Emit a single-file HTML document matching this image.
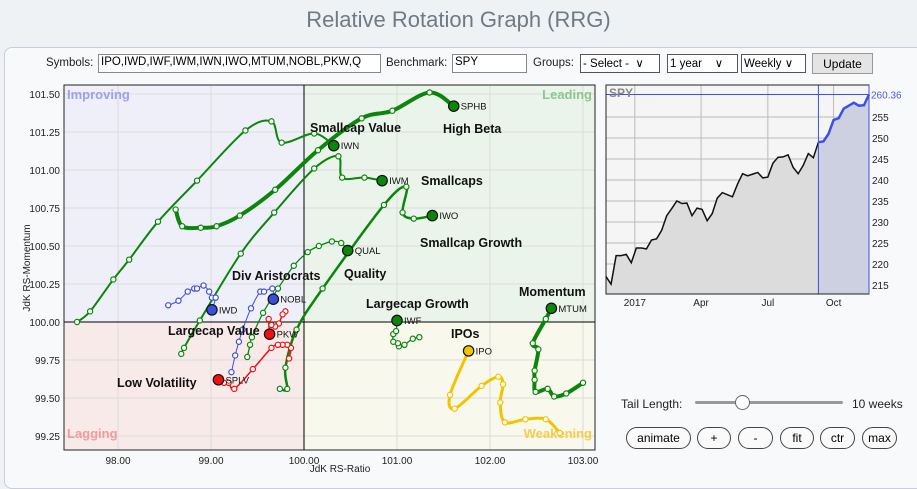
<!DOCTYPE html>
<html><head><meta charset="utf-8"><style>
body{margin:0;width:917px;height:479px;background:#eef2f5;font-family:"Liberation Sans",sans-serif;overflow:hidden;position:relative}
.t{position:absolute;font-size:11.5px;color:#222}
.in{position:absolute;height:19px;border:1px solid #888;background:#fff;font-size:11.5px;box-sizing:border-box;padding:1px 2px;white-space:nowrap;overflow:hidden}
.sel{position:absolute;height:19px;border:1px solid #555;background:#fff;font-size:11.5px;box-sizing:border-box;padding:1px 2px}
.btn{position:absolute;top:427px;height:22px;border:1px solid #444;border-radius:11px;background:#fafafa;font-size:12px;text-align:center;line-height:20px;box-sizing:border-box}
</style></head><body>
<div style="position:absolute;left:0;width:917px;top:7px;text-align:center;font-size:22px;color:#6f7a85">Relative Rotation Graph (RRG)</div>
<div style="position:absolute;left:4px;top:47px;width:930px;height:440px;background:#f8f9fa;border:1px solid #ccd;border-radius:8px"></div>
<span class="t" style="left:46px;top:57px">Symbols:</span>
<div class="in" style="left:98px;top:54px;width:283px">IPO,IWD,IWF,IWM,IWN,IWO,MTUM,NOBL,PKW,Q</div>
<span class="t" style="left:386px;top:57px">Benchmark:</span>
<div class="in" style="left:452px;top:54px;width:75px">SPY</div>
<span class="t" style="left:533px;top:57px">Groups:</span>
<div class="sel" style="left:580px;top:54px;width:80px">- Select - &nbsp;&#8744;</div>
<div class="sel" style="left:667px;top:54px;width:71px">1 year &nbsp;&nbsp;&nbsp;&#8744;</div>
<div class="sel" style="left:741px;top:54px;width:65px">Weekly &#8744;</div>
<div style="position:absolute;left:812px;top:53px;width:61px;height:21px;border:1px solid #999;background:#e4e4e4;font-size:12px;text-align:center;line-height:20px;box-sizing:border-box">Update</div>

<svg id="rrg" width="917" height="479" style="position:absolute;left:0;top:0" xmlns="http://www.w3.org/2000/svg"></svg>

<span class="t" style="left:621px;top:397px;font-size:12px">Tail Length:</span>
<div style="position:absolute;left:695px;top:401px;width:148px;height:3px;background:#999;border-radius:2px"></div>
<div style="position:absolute;left:735px;top:395px;width:13px;height:13px;border:1px solid #666;border-radius:50%;background:#fff"></div>
<span class="t" style="left:852px;top:397px;font-size:12px">10 weeks</span>
<div class="btn" style="left:626px;width:65px">animate</div>
<div class="btn" style="left:697px;width:34px">+</div>
<div class="btn" style="left:738px;width:35px">-</div>
<div class="btn" style="left:780px;width:34px">fit</div>
<div class="btn" style="left:820px;width:35px">ctr</div>
<div class="btn" style="left:862px;width:35px">max</div>

<script>
const xTicks=[98,99,100,101,102,103];
const yTicks=[99.25,99.5,99.75,100,100.25,100.5,100.75,101,101.25,101.5];
const symbols=["SPHB","IWN","IWM","IWO","QUAL","IWD","NOBL","PKW","SPLV","IWF","IPO","MTUM"];
const tailSPHB=[[98.62,100.74],[98.69,100.63],[98.89,100.62],[99.06,100.63],[99.31,100.70],[99.69,100.87],[100.15,101.13],[100.62,101.34],[100.95,101.39],[101.35,101.51],[101.61,101.42]];
const tailIWN=[[97.56,100.00],[97.70,100.07],[97.95,100.28],[98.12,100.41],[98.43,100.66],[98.85,100.93],[99.37,101.26],[99.65,101.32],[99.76,101.18],[100.11,101.24],[100.32,101.16]];
const tailIWM=[[98.68,99.79],[98.71,99.83],[98.88,100.01],[99.32,100.45],[99.68,100.72],[100.11,101.01],[100.37,101.09],[100.41,100.95],[100.65,100.95],[100.84,100.93]];
const tailIWO=[[99.74,99.56],[99.82,99.56],[99.80,99.70],[99.92,99.95],[100.20,100.22],[100.86,100.77],[101.10,100.89],[101.06,100.72],[101.18,100.68],[101.38,100.70]];
const tailQUAL=[[99.39,99.77],[99.42,99.85],[99.44,99.90],[99.56,100.06],[99.72,100.22],[99.89,100.37],[100.04,100.46],[100.16,100.50],[100.30,100.53],[100.40,100.52],[100.47,100.47]];
const tailIWD=[[98.54,100.11],[98.65,100.14],[98.75,100.20],[98.82,100.22],[98.85,100.22],[98.92,100.24],[98.98,100.20],[99.01,100.16],[99.05,100.16],[99.01,100.08]];
const tailNOBL=[[99.22,99.67],[99.26,99.78],[99.30,99.87],[99.34,99.95],[99.43,100.09],[99.53,100.20],[99.57,100.20],[99.66,100.22],[99.67,100.15]];
const tailPKW=[[99.80,100.07],[99.77,100.05],[99.73,99.99],[99.69,99.97],[99.65,99.98],[99.62,100.02],[99.63,99.92]];
const tailSPLV=[[99.84,99.76],[99.86,99.83],[99.82,99.85],[99.77,99.85],[99.72,99.85],[99.65,99.83],[99.45,99.69],[99.25,99.56],[99.19,99.60],[99.14,99.60],[99.08,99.62]];
const tailIWF=[[101.24,99.90],[101.17,99.89],[101.08,99.85],[101.02,99.84],[101.01,99.86],[100.96,99.87],[100.96,99.92],[100.99,99.94],[101.00,100.01]];
const tailIPO=[[102.75,99.27],[102.60,99.36],[102.38,99.36],[102.16,99.34],[102.11,99.47],[102.14,99.59],[102.09,99.64],[101.91,99.58],[101.62,99.43],[101.57,99.52],[101.77,99.81]];
const tailMTUM=[[103.00,99.60],[102.82,99.53],[102.69,99.51],[102.62,99.56],[102.49,99.54],[102.48,99.62],[102.48,99.68],[102.52,99.82],[102.46,99.86],[102.60,100.02],[102.66,100.09]];
const groupNames=["High Beta","Smallcap Value","Smallcaps","Smallcap Growth","Quality","Div Aristocrats","Largecap Value","Largecap Growth","Momentum","IPOs","Low Volatility"];
const spyValues=[217,215.2,222,222,222.3,220.3,223.8,223.8,223.6,225.7,226,228,231.5,233.2,235,234.4,234.5,231.5,233.3,233,230.3,232,235.7,237,236.5,236,239,241.5,241,241.4,241.8,240.5,240.7,244,245.4,245.5,246,243,241.5,243.5,246.3,245.3,249,249.2,251,254.3,254.7,257,257.7,258.4,257.7,257.8,260.36];
const spyTicks=[215,220,225,230,235,240,245,250,255];
const spyMonths=["2017","Apr","Jul","Oct"];
const spyMonthIdx=[5.7,18.8,32,45];
const spyHighlightStart=42;

const NS="http://www.w3.org/2000/svg";
const svg=document.getElementById('rrg');
function mk(tag,attrs,parent){const e=document.createElementNS(NS,tag);for(const k in attrs)e.setAttribute(k,attrs[k]);(parent||svg).appendChild(e);return e;}
const L=64,R=595,T=85,B=450;
const xS=v=>304+(v-100)*93;
const yS=v=>322-(v-100)*152;
let q;
q=mk('rect',{x:L,y:T,width:xS(100)-L,height:yS(100)-T,fill:'#efeff9'});


q=mk('rect',{x:xS(100),y:T,width:R-xS(100),height:yS(100)-T,fill:'#ebf4eb'});


q=mk('rect',{x:L,y:yS(100),width:xS(100)-L,height:B-yS(100),fill:'#f9eaea'});


q=mk('rect',{x:xS(100),y:yS(100),width:R-xS(100),height:B-yS(100),fill:'#f9f8ec'});


xTicks.forEach(v=>{
  const g=mk('line',{x1:xS(v),x2:xS(v),y1:T,y2:B,stroke:'#dcdcdc'});
  
  
  const t=mk('text',{x:xS(v),y:B+14,'font-size':10,'text-anchor':'middle',fill:'#222'});t.textContent=v.toFixed(2);
  
  
});
yTicks.forEach(v=>{
  const g=mk('line',{x1:L,x2:R,y1:yS(v),y2:yS(v),stroke:'#dcdcdc'});
  
  
  const t=mk('text',{x:L-4,y:yS(v)+4,'font-size':10,'text-anchor':'end',fill:'#222'});t.textContent=v.toFixed(2);
  
  
});
let c=mk('line',{x1:xS(100),x2:xS(100),y1:T,y2:B,stroke:'#000'});


c=mk('line',{x1:L,x2:R,y1:yS(100),y2:yS(100),stroke:'#000'});


c=mk('rect',{x:L,y:T,width:R-L,height:B-T,fill:'none',stroke:'#222'});


const qlab=[["Improving",L+3,T+14,'start','#9aa2ec'],["Leading",R-3,T+14,'end','#8cc88c'],["Lagging",L+3,B-12,'start','#f29a9a'],["Weakening",R-3,B-12,'end','#f4cd4a']];
qlab.forEach(d=>{const t=mk('text',{x:d[1],y:d[2],'font-size':13,'font-weight':'bold','text-anchor':d[3],fill:d[4]});t.textContent=d[0];
  
  });
let at=mk('text',{x:340,y:472,'font-size':10,'text-anchor':'middle',fill:'#222'});at.textContent='JdK RS-Ratio';


at=mk('text',{x:0,y:0,'font-size':10,'text-anchor':'middle',fill:'#222',transform:'translate(30,268) rotate(-90)'});at.textContent='JdK RS-Momentum';



function pathFor(pts){
  const p=pts.map(d=>[xS(d[0]),yS(d[1])]);
  let s='M'+p[0][0]+','+p[0][1];
  for(let i=0;i<p.length-1;i++){
    const p0=p[Math.max(0,i-1)],p1=p[i],p2=p[i+1],p3=p[Math.min(p.length-1,i+2)];
    const c1=[p1[0]+(p2[0]-p0[0])/6,p1[1]+(p2[1]-p0[1])/6],c2=[p2[0]-(p3[0]-p1[0])/6,p2[1]-(p3[1]-p1[1])/6];
    s+=' C'+c1+' '+c2+' '+p2;
  }
  return s;
}
const tails=[tailSPHB,tailIWN,tailIWM,tailIWO,tailQUAL,tailIWD,tailNOBL,tailPKW,tailSPLV,tailIWF,tailIPO,tailMTUM];
const colors=['#0a860a','#0a860a','#0a860a','#0a860a','#0a860a','#3a4ee0','#3a4ee0','#f01010','#f01010','#0a860a','#f2c400','#0a860a'];
const widths=[4,2,2,2.5,1.3,1,1,1.5,1.5,1.3,3,4];
tails.forEach((pts,k)=>{
  const g=mk('g',{});
  
  
  mk('path',{d:pathFor(pts),fill:'none',stroke:colors[k],'stroke-width':widths[k]},g);
  pts.slice(0,-1).forEach(d=>{
    const m=mk('circle',{cx:xS(d[0]),cy:yS(d[1]),r:2.6,fill:'#fff',stroke:colors[k],'stroke-width':1.2},g);
    
    
  });
  const h=pts[pts.length-1];
  const hd=mk('circle',{cx:xS(h[0]),cy:yS(h[1]),r:5.2,fill:colors[k],stroke:'#111','stroke-width':1.2},g);
  
  
  const t=mk('text',{x:xS(h[0])+7,y:yS(h[1])+3.5,'font-size':9.5,fill:'#111'},g);t.textContent=symbols[k];
  
  
});
const gpos=[[443,133],[310,132],[421,185],[420,247],[344,278],[232,280],[168,335],[366,308],[519,296],[451,338],[117,387]];
groupNames.forEach((n,i)=>{const t=mk('text',{x:gpos[i][0],y:gpos[i][1],'font-size':12.5,'font-weight':'bold',fill:'#111'});t.textContent=n;
  
  });

const SL=606,SR=869,ST=85,SB=294;
const sx=i=>SL+i*(SR-SL)/(spyValues.length-1);
const sy=v=>117+(255-v)*4.2;
let r=mk('rect',{x:SL,y:ST,width:SR-SL,height:SB-ST,fill:'#f5f5f5'});


spyTicks.forEach(v=>{const g=mk('line',{x1:SL,x2:SR,y1:sy(v),y2:sy(v),stroke:'#bbb'});
  
  
  const t=mk('text',{x:SR+3,y:sy(v)+4,'font-size':10,fill:'#222'});t.textContent=v;
  
  });
spyMonths.forEach((m,i)=>{const g=mk('line',{x1:sx(spyMonthIdx[i]),x2:sx(spyMonthIdx[i]),y1:ST,y2:SB,stroke:'#bbb'});
  
  
  const t=mk('text',{x:sx(spyMonthIdx[i]),y:SB+12,'font-size':10,'text-anchor':'middle',fill:'#222'});t.textContent=m;
  
  });
const hs=spyHighlightStart;
let ar='M'+sx(0)+','+SB;spyValues.forEach((v,i)=>{ar+=' L'+sx(i)+','+sy(v);});ar+=' L'+sx(spyValues.length-1)+','+SB+'Z';
let a=mk('path',{d:ar,fill:'#dcdcdc'});


let ar2='M'+sx(hs)+','+SB;spyValues.forEach((v,i)=>{if(i>=hs)ar2+=' L'+sx(i)+','+sy(v);});ar2+=' L'+sx(spyValues.length-1)+','+SB+'Z';
a=mk('path',{d:ar2,fill:'#ccd0e0'});


let l1='';spyValues.forEach((v,i)=>{if(i<=hs)l1+=(i?' L':'M')+sx(i)+','+sy(v);});
a=mk('path',{d:l1,fill:'none',stroke:'#111','stroke-width':1.5});


let l2='';spyValues.forEach((v,i)=>{if(i>=hs)l2+=(i>hs?' L':'M')+sx(i)+','+sy(v);});
a=mk('path',{d:l2,fill:'none',stroke:'#3a50e8','stroke-width':2.5});


const last=spyValues[spyValues.length-1];
a=mk('line',{x1:SL,x2:SR,y1:sy(last),y2:sy(last),stroke:'#3a50e8'});


a=mk('line',{x1:sx(hs),x2:sx(hs),y1:ST,y2:SB,stroke:'#3a50e8'});


a=mk('rect',{x:SL,y:ST,width:SR-SL,height:SB-ST,fill:'none',stroke:'#222'});


a=mk('line',{x1:SR,x2:SR,y1:ST,y2:SB,stroke:'#3a50e8'});


a=mk('text',{x:SR+2,y:sy(last)+4,'font-size':10,fill:'#4a5ae8'});a.textContent=last.toFixed(2);


a=mk('text',{x:SL+3,y:ST+12,'font-size':12,'font-weight':'bold',fill:'#888'});a.textContent='SPY';


</script>
</body></html>
